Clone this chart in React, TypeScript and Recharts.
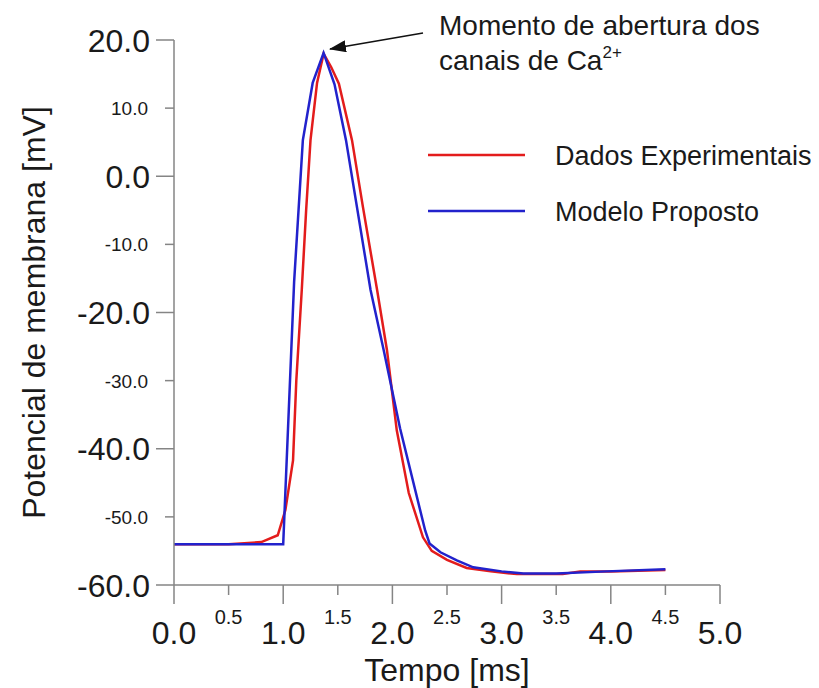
import { LineChart, Line, XAxis, YAxis, Legend } from 'recharts'

const expTime = [0, 0.5, 0.8, 0.95, 1.02, 1.09, 1.12, 1.17, 1.21, 1.25, 1.31, 1.37, 1.44, 1.51, 1.63, 1.73, 1.86, 1.95, 2.04, 2.15, 2.28, 2.36, 2.5, 2.68, 2.9, 3.14, 3.56, 3.72, 4.0, 4.5]
const expVolt = [-54, -54, -53.7, -52.7, -49, -41.7, -30, -16.7, -5, 5.3, 13.7, 18, 16, 13.6, 5.3, -4.5, -16.7, -25.5, -37.3, -46.5, -53, -55, -56.3, -57.5, -58, -58.4, -58.4, -58, -58, -57.8]

const modelTime = [0, 1.0, 1.1, 1.18, 1.27, 1.37, 1.47, 1.575, 1.8, 1.92, 2.07, 2.3, 2.34, 2.44, 2.59, 2.74, 3.0, 3.2, 3.5, 3.96, 4.5]
const modelVolt = [-54, -54, -15.5, 5.3, 13.7, 18.1, 13.5, 5.3, -16.7, -25.5, -37, -52, -53.9, -55.2, -56.4, -57.4, -58, -58.3, -58.3, -58, -57.7]

const xTicks = [0, 0.5, 1, 1.5, 2, 2.5, 3, 3.5, 4, 4.5, 5]
const yTicks = [-60, -50, -40, -30, -20, -10, 0, 10, 20]

const seriesNames = ['Dados Experimentais', 'Modelo Proposto']
const RED = '#e31c1c'
const BLUE = '#2222cc'
const AXIS = '#858585'
const FONT = '"Liberation Sans", Arial, sans-serif'

const expData = expTime.map((t, i) => ({ t, v: expVolt[i] }))
const modelData = modelTime.map((t, i) => ({ t, v: modelVolt[i] }))

function XTick({ x, y, payload }: any) {
  const major = Math.abs(payload.value % 1) < 1e-9
  return (
    <g>
      <line x1={x} y1={y} x2={x} y2={y + (major ? 19 : 10)} stroke={AXIS} strokeWidth={1.5} />
      <text
        x={x}
        y={y + (major ? 59 : 39)}
        textAnchor="middle"
        fontSize={major ? 32 : 20}
        fill="#1a1a1a"
        fontFamily={FONT}
      >
        {payload.value.toFixed(1)}
      </text>
    </g>
  )
}

function YTick({ x, y, payload }: any) {
  const major = payload.value % 20 === 0
  return (
    <g>
      <line x1={x - (major ? 18 : 9)} y1={y} x2={x} y2={y} stroke={AXIS} strokeWidth={1.5} />
      <text
        x={x - (major ? 24 : 26)}
        y={y + (major ? 11.5 : 7)}
        textAnchor="end"
        fontSize={major ? 32 : 19}
        fill="#1a1a1a"
        fontFamily={FONT}
      >
        {payload.value.toFixed(1)}
      </text>
    </g>
  )
}

function LegendBox() {
  const colors = [RED, BLUE]
  return (
    <svg width={391} height={100}>
      {seriesNames.map((name, i) => {
        const ly = 17 + i * 56
        return (
          <g key={name}>
            <line x1={0} y1={ly} x2={97} y2={ly} stroke={colors[i]} strokeWidth={2.5} />
            <text x={127} y={ly + 10} fontSize={27} fill="#1a1a1a" fontFamily={FONT}>
              {name}
            </text>
          </g>
        )
      })}
    </svg>
  )
}

export default function App() {
  return (
    <div style={{ position: 'relative', width: 811, height: 680, background: '#fff' }}>
      <LineChart width={811} height={680} margin={{ top: 32, right: 99, bottom: 23, left: 46 }}>
        <XAxis
          dataKey="t"
          type="number"
          domain={[0, 5]}
          ticks={xTicks}
          allowDataOverflow
          height={80}
          tickLine={false}
          tickSize={0}
          tickMargin={0}
          axisLine={{ stroke: AXIS, strokeWidth: 1.5 }}
          tick={<XTick />}
          interval={0}
          label={{
            content: ({ viewBox }: any) => (
              <text
                x={viewBox.x + viewBox.width / 2}
                y={viewBox.y + 96}
                textAnchor="middle"
                fontSize={32}
                fill="#1a1a1a"
                fontFamily={FONT}
              >
                Tempo [ms]
              </text>
            ),
          }}
        />
        <YAxis
          dataKey="v"
          type="number"
          domain={[-60, 20]}
          ticks={yTicks}
          allowDataOverflow
          width={120}
          tickLine={false}
          tickSize={0}
          tickMargin={0}
          axisLine={{ stroke: AXIS, strokeWidth: 1.5 }}
          tick={<YTick />}
          interval={0}
          label={{
            content: ({ viewBox }: any) => {
              const cx = viewBox.x - 20
              const cy = viewBox.y + viewBox.height / 2
              return (
                <text
                  x={cx}
                  y={cy}
                  transform={`rotate(-90, ${cx}, ${cy})`}
                  textAnchor="middle"
                  dominantBaseline="central"
                  fontSize={32}
                  fill="#1a1a1a"
                  fontFamily={FONT}
                >
                  Potencial de membrana [mV]
                </text>
              )
            },
          }}
        />
        <Legend
          layout="vertical"
          align="center"
          verticalAlign="middle"
          content={<LegendBox />}
          wrapperStyle={{ position: 'absolute', left: 420, top: 130, width: 391, height: 100 }}
        />
        <Line
          data={expData}
          dataKey="v"
          name={seriesNames[0]}
          type="linear"
          stroke={RED}
          strokeWidth={2.5}
          dot={false}
          isAnimationActive={false}
        />
        <Line
          data={modelData}
          dataKey="v"
          name={seriesNames[1]}
          type="linear"
          stroke={BLUE}
          strokeWidth={2.5}
          dot={false}
          isAnimationActive={false}
        />
      </LineChart>
      <svg
        width={811}
        height={680}
        style={{ position: 'absolute', left: 0, top: 0, pointerEvents: 'none' }}
      >
        <defs>
          <marker id="head" markerWidth="17" markerHeight="12" refX="16" refY="6" orient="auto" markerUnits="userSpaceOnUse">
            <path d="M0,0 L17,6 L0,12 Z" fill="#111" />
          </marker>
        </defs>
        <line x1={415} y1={25} x2={322} y2={41} stroke="#111" strokeWidth={1.5} markerEnd="url(#head)" />
        <text x={431} y={27} fontSize={28} fill="#1a1a1a" fontFamily={FONT}>
          Momento de abertura dos
        </text>
        <text x={431} y={62} fontSize={28} fill="#1a1a1a" fontFamily={FONT}>
          canais de Ca
          <tspan fontSize={17} dy={-12}>
            2+
          </tspan>
        </text>
      </svg>
    </div>
  )
}
